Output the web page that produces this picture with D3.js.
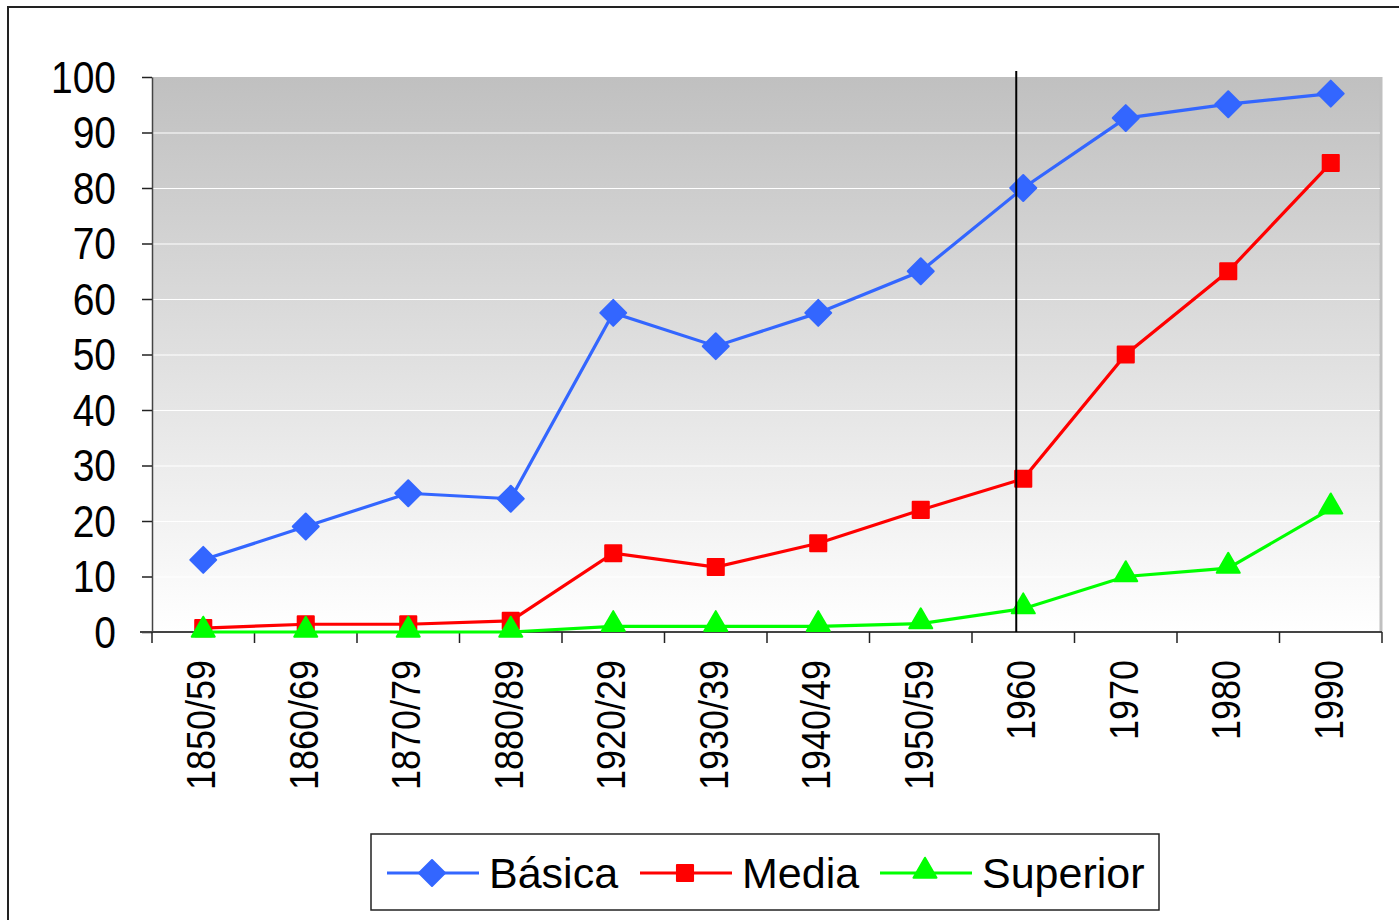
<!DOCTYPE html>
<html lang="es">
<head>
    <meta charset="UTF-8">
    <title>Cobertura educativa</title>
    <script src="https://d3js.org/d3.v7.min.js"></script>
    <style>
        body { margin: 0; background: #fff; font-family: Arial, 'Liberation Sans', sans-serif; }
        svg { display: block; }
    </style>
</head>
<body>
    <svg id="chart" width="1399" height="920"></svg>

    <script>
        // data
        const periods = ["1850/59", "1860/69", "1870/79", "1880/89", "1920/29", "1930/39",
                         "1940/49", "1950/59", "1960", "1970", "1980", "1990"];
        const basica   = [13, 19, 25, 24, 57.5, 51.5, 57.5, 65, 80, 92.6, 95.1, 97];
        const media    = [0.7, 1.4, 1.4, 2, 14.2, 11.7, 16, 22, 27.6, 50, 65, 84.5];
        const superior = [0, 0, 0, 0, 1, 1, 1, 1.5, 4.2, 10, 11.5, 22.2];
        const yTicks = [0, 10, 20, 30, 40, 50, 60, 70, 80, 90, 100];
        const seriesNames = ["Básica", "Media", "Superior"];
        const markerLine = "1960";

        const svg = d3.select("#chart");
        const plotLeft = 152, plotRight = 1382, plotTop = 77, plotBottom = 632;

        const x = d3.scaleBand().domain(periods).range([plotLeft, plotRight]);
        const y = d3.scaleLinear().domain([0, 100]).range([plotBottom, plotTop]);

        // outer chart border (runs off the page to the right and bottom)
        svg.append("rect")
            .attr("x", 8).attr("y", 7).attr("width", 1420).attr("height", 940)
            .attr("fill", "none").attr("stroke", "#222").attr("stroke-width", 2);

        // plot background gradient
        const defs = svg.append("defs");
        const grad = defs.append("linearGradient")
            .attr("id", "bg").attr("x1", 0).attr("y1", 0).attr("x2", 0).attr("y2", 1);
        grad.append("stop").attr("offset", "0%").attr("stop-color", "#c0c0c0");
        grad.append("stop").attr("offset", "100%").attr("stop-color", "#ffffff");

        svg.append("rect")
            .attr("x", plotLeft).attr("y", plotTop)
            .attr("width", plotRight - plotLeft).attr("height", plotBottom - plotTop)
            .attr("fill", "url(#bg)");
        svg.append("line")
            .attr("x1", plotRight - 1).attr("x2", plotRight - 1).attr("y1", plotTop).attr("y2", plotBottom)
            .attr("stroke", "#c0c0c0").attr("stroke-width", 3);

        // white gridlines
        svg.append("g").selectAll("line")
            .data(yTicks.filter(d => d > 0 && d < 100))
            .join("line")
            .attr("x1", plotLeft + 1).attr("x2", plotRight - 2)
            .attr("y1", d => y(d) + 0.5).attr("y2", d => y(d) + 0.5)
            .attr("stroke", "#ffffff").attr("stroke-width", 1.2);

        // y axis
        const yAxis = svg.append("g")
            .attr("transform", `translate(${plotLeft},0)`)
            .call(d3.axisLeft(y).tickValues(yTicks).tickSize(10).tickPadding(26).tickSizeOuter(0));
        yAxis.select(".domain").attr("stroke", "#444").attr("stroke-width", 1.5);
        yAxis.selectAll(".tick line").attr("stroke", "#222").attr("stroke-width", 1.5);
        yAxis.selectAll(".tick text")
            .attr("font-size", 39).attr("fill", "#000")
            .attr("font-family", "Arial, 'Liberation Sans', sans-serif")
            .attr("dy", null)
            .attr("transform", "translate(0,15) scale(1,1.15)");

        // x axis: ticks on category boundaries
        const xAxis = svg.append("g").attr("transform", `translate(0,${plotBottom})`);
        xAxis.append("line")
            .attr("x1", 140).attr("x2", plotRight).attr("y1", 0).attr("y2", 0)
            .attr("stroke", "#444").attr("stroke-width", 2);
        const bounds = periods.map(p => x(p)).concat([plotRight]);
        xAxis.selectAll("line.tk")
            .data(bounds)
            .join("line").attr("class", "tk")
            .attr("x1", d => d).attr("x2", d => d).attr("y1", 0).attr("y2", 11)
            .attr("stroke", "#222").attr("stroke-width", 1.5);
        xAxis.selectAll("text")
            .data(periods)
            .join("text")
            .attr("transform", d => `translate(${x(d) + x.bandwidth() / 2 + 12},28) rotate(-90) scale(1,1.15)`)
            .attr("text-anchor", "end")
            .attr("font-size", 36)
            .attr("fill", "#000")
            .text(d => d);

        const cx = d => x(d) + x.bandwidth() / 2;
        const line = d3.line().x((d, i) => cx(periods[i])).y(d => y(d));

        const series = [
            { name: seriesNames[0], values: basica, color: "#3366ff", symbol: d3.symbolDiamond2, size: 430, dy: 0 },
            { name: seriesNames[1], values: media, color: "#ff0000", symbol: d3.symbolSquare2, size: 330, dy: 0 },
            { name: seriesNames[2], values: superior, color: "#00ff00", symbol: d3.symbolTriangle2, size: 380, dy: -2 }
        ];

        series.forEach(s => {
            svg.append("path")
                .datum(s.values)
                .attr("d", line)
                .attr("fill", "none")
                .attr("stroke", s.color)
                .attr("stroke-width", 3.2);
            svg.append("g").selectAll("path")
                .data(s.values)
                .join("path")
                .attr("transform", (d, i) => `translate(${cx(periods[i])},${y(d) + s.dy})`)
                .attr("d", d3.symbol(s.symbol, s.size))
                .attr("fill", s.color)
                .attr("stroke", s.color)
                .attr("stroke-linejoin", "round")
                .attr("stroke-width", 2);
        });

        // vertical reference line just left of the 1960 point
        svg.append("line")
            .attr("x1", cx(markerLine) - 7).attr("x2", cx(markerLine) - 7)
            .attr("y1", 71).attr("y2", plotBottom)
            .attr("stroke", "#000").attr("stroke-width", 2);

        // legend
        const legend = svg.append("g");
        legend.append("rect")
            .attr("x", 371).attr("y", 834).attr("width", 788).attr("height", 76)
            .attr("fill", "#fff").attr("stroke", "#222").attr("stroke-width", 1.5);
        const legendX = [387, 640, 880];
        series.forEach((s, i) => {
            const g = legend.append("g").attr("transform", `translate(${legendX[i]},873)`);
            g.append("line").attr("x1", 0).attr("x2", 92).attr("y1", 0).attr("y2", 0)
                .attr("stroke", s.color).attr("stroke-width", 3.2);
            g.append("path")
                .attr("transform", `translate(45,${s.dy})`)
                .attr("d", d3.symbol(s.symbol, s.size))
                .attr("fill", s.color).attr("stroke", s.color)
                .attr("stroke-linejoin", "round").attr("stroke-width", 2);
            g.append("text")
                .attr("x", 102).attr("y", 0)
                .attr("dy", "0.36em")
                .attr("font-size", 43)
                .attr("fill", "#000")
                .text(s.name);
        });
    </script>
</body>
</html>
